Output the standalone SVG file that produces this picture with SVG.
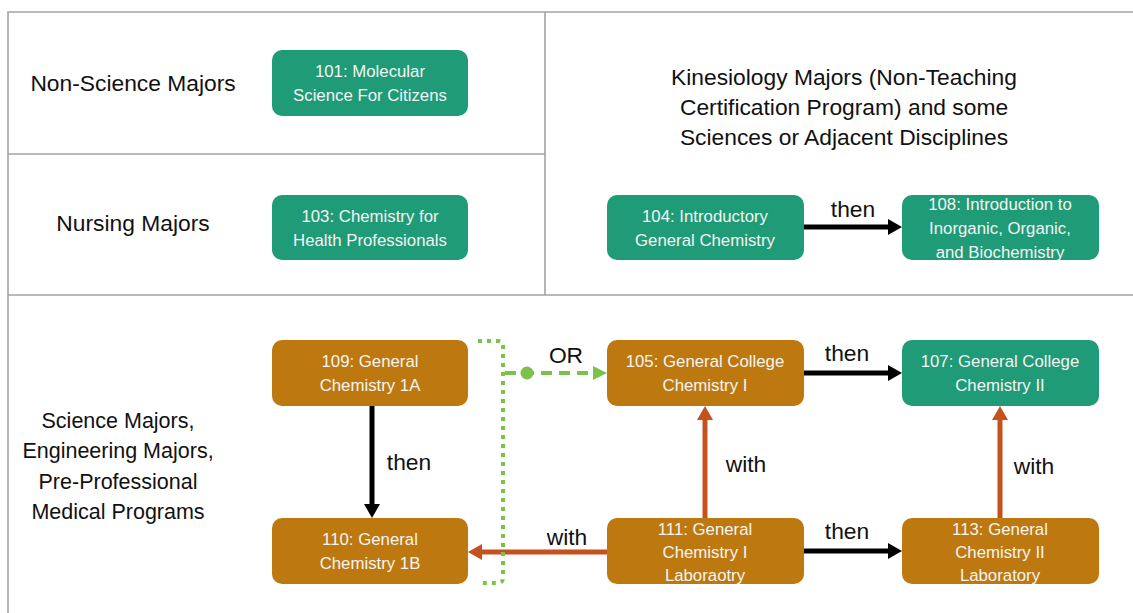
<svg xmlns="http://www.w3.org/2000/svg" width="1133" height="613" viewBox="0 0 1133 613">
<defs>
<style>
.grid{stroke:#a3a3a3;stroke-width:1.6;fill:none}
.g{fill:#1f9b77}
.o{fill:#bd790f}
.nt{font-family:"Liberation Sans",Arial,sans-serif;font-size:16.8px;fill:#f4f4f4;text-anchor:middle}
.lb{font-family:"Liberation Sans",Arial,sans-serif;font-size:22.8px;fill:#111;text-anchor:middle}
.sm{font-size:21.5px}
.blk{stroke:#000;stroke-width:5;fill:none}
.red{stroke:#c4511e;stroke-width:5;fill:none}
.grn{stroke:#7cc24a;stroke-width:4;fill:none}
</style>
<marker id="ab" markerUnits="userSpaceOnUse" markerWidth="14" markerHeight="16" refX="2" refY="8" orient="auto"><path d="M0,0 L14,8 L0,16 z" fill="#000"/></marker>
<marker id="ar" markerUnits="userSpaceOnUse" markerWidth="14" markerHeight="16" refX="2" refY="8" orient="auto"><path d="M0,0 L14,8 L0,16 z" fill="#c4511e"/></marker>
<marker id="ag" markerUnits="userSpaceOnUse" markerWidth="14" markerHeight="16" refX="2" refY="8" orient="auto"><path d="M0,1 L14,8 L0,15 z" fill="#7cc24a"/></marker>
</defs>
<rect width="1133" height="613" fill="#fff"/>
<g id="grid">
<path class="grid" d="M8,613 V12 H1133 M545,12 V295 M8,154 H545 M8,295 H1133"/>
</g>
<g id="labels">
<text class="lb" x="133" y="91">Non-Science Majors</text>
<text class="lb" x="133" y="231">Nursing Majors</text>
<text class="lb" x="844" y="85">Kinesiology Majors (Non-Teaching</text>
<text class="lb" x="844" y="115">Certification Program) and some</text>
<text class="lb" x="844" y="145">Sciences or Adjacent Disciplines</text>
<text class="lb sm" x="118" y="428">Science Majors,</text>
<text class="lb sm" x="118" y="458">Engineering Majors,</text>
<text class="lb sm" x="118" y="489">Pre-Professional</text>
<text class="lb sm" x="118" y="519">Medical Programs</text>
</g>
<g id="connectors">
<line class="blk" x1="804" y1="227" x2="890" y2="227" marker-end="url(#ab)"/>
<line class="blk" x1="804" y1="373" x2="890" y2="373" marker-end="url(#ab)"/>
<line class="blk" x1="804" y1="551" x2="890" y2="551" marker-end="url(#ab)"/>
<line class="blk" x1="372" y1="406" x2="372" y2="506" marker-end="url(#ab)"/>
<line class="red" x1="607" y1="552" x2="480" y2="552" marker-end="url(#ar)"/>
<line class="red" x1="705" y1="518" x2="705" y2="418" marker-end="url(#ar)"/>
<line class="red" x1="1000" y1="518" x2="1000" y2="418" marker-end="url(#ar)"/>
<path class="grn" stroke-dasharray="4,5" d="M478,341 H498 Q503,341 503,346 V578 Q503,583 498,583 H478"/>
<line class="grn" x1="505" y1="373" x2="595" y2="373" stroke-dasharray="11,7" marker-end="url(#ag)"/>
<circle cx="527" cy="373" r="6.5" fill="#7cc24a"/>
<text class="lb" x="853" y="217">then</text>
<text class="lb" x="847" y="361">then</text>
<text class="lb" x="847" y="539">then</text>
<text class="lb" x="409" y="470">then</text>
<text class="lb" x="567" y="545">with</text>
<text class="lb" x="746" y="472">with</text>
<text class="lb" x="1034" y="474">with</text>
<text class="lb" x="566" y="363">OR</text>
</g>
<g id="n101"><rect class="g" x="272" y="50" width="196" height="66" rx="10"/><text class="nt" x="370" y="77">101: Molecular</text><text class="nt" x="370" y="101">Science For Citizens</text></g>
<g id="n103"><rect class="g" x="272" y="195" width="196" height="65" rx="10"/><text class="nt" x="370" y="222">103: Chemistry for</text><text class="nt" x="370" y="246">Health Professionals</text></g>
<g id="n104"><rect class="g" x="607" y="195" width="197" height="65" rx="10"/><text class="nt" x="705" y="222">104: Introductory</text><text class="nt" x="705" y="246">General Chemistry</text></g>
<g id="n108"><rect class="g" x="902" y="195" width="197" height="65" rx="10"/><text class="nt" x="1000" y="210">108: Introduction to</text><text class="nt" x="1000" y="234">Inorganic, Organic,</text><text class="nt" x="1000" y="258">and Biochemistry</text></g>
<g id="n109"><rect class="o" x="272" y="340" width="196" height="66" rx="10"/><text class="nt" x="370" y="367">109: General</text><text class="nt" x="370" y="391">Chemistry 1A</text></g>
<g id="n110"><rect class="o" x="272" y="518" width="196" height="66" rx="10"/><text class="nt" x="370" y="545">110: General</text><text class="nt" x="370" y="569">Chemistry 1B</text></g>
<g id="n105"><rect class="o" x="607" y="340" width="197" height="66" rx="10"/><text class="nt" x="705" y="367">105: General College</text><text class="nt" x="705" y="391">Chemistry I</text></g>
<g id="n107"><rect class="g" x="902" y="340" width="197" height="66" rx="10"/><text class="nt" x="1000" y="367">107: General College</text><text class="nt" x="1000" y="391">Chemistry II</text></g>
<g id="n111"><rect class="o" x="607" y="518" width="197" height="66" rx="10"/><text class="nt" x="705" y="535">111: General</text><text class="nt" x="705" y="558">Chemistry I</text><text class="nt" x="705" y="581">Laboraotry</text></g>
<g id="n113"><rect class="o" x="902" y="518" width="197" height="66" rx="10"/><text class="nt" x="1000" y="535">113: General</text><text class="nt" x="1000" y="558">Chemistry II</text><text class="nt" x="1000" y="581">Laboratory</text></g>
</svg>
